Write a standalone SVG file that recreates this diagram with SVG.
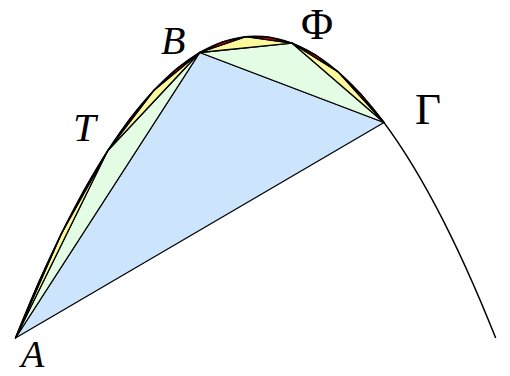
<svg xmlns="http://www.w3.org/2000/svg" width="510" height="376" viewBox="0 0 510 376">
<style>
.t{stroke:#000;stroke-width:1.3;stroke-linejoin:round}
.l1{fill:#cce4fc}
.l2{fill:#e3fce3}
.l3{fill:#fcf99c}
.l4{fill:#e00000}
.lbl{font-family:"Liberation Serif","DejaVu Serif",serif;fill:#000}
.it{font-style:italic}
</style>
<rect width="510" height="376" fill="#fff"/>
<g id="level1">
<polygon class="t l1" points="15.5,338 199.75,52.5 384,122.5"/>
</g>
<g id="level2">
<polygon class="t l2" points="15.5,338 107.63,150.81 199.75,52.5"/>
<polygon class="t l2" points="199.75,52.5 291.88,43.06 384,122.5"/>
</g>
<g id="level3">
<polygon class="t l3" points="15.5,338 61.56,233.3 107.63,150.81"/>
<polygon class="t l3" points="107.63,150.81 153.69,90.55 199.75,52.5"/>
<polygon class="t l3" points="199.75,52.5 245.81,36.67 291.88,43.06"/>
<polygon class="t l3" points="291.88,43.06 337.94,71.67 384,122.5"/>
</g>
<g id="level4">
<polygon class="t l4" points="15.5,338 38.53,282.87 61.56,233.3"/>
<polygon class="t l4" points="61.56,233.3 84.59,189.28 107.63,150.81"/>
<polygon class="t l4" points="107.63,150.81 130.66,117.9 153.69,90.55"/>
<polygon class="t l4" points="153.69,90.55 176.72,68.75 199.75,52.5"/>
<polygon class="t l4" points="199.75,52.5 222.78,41.81 245.81,36.67"/>
<polygon class="t l4" points="245.81,36.67 268.84,37.09 291.88,43.06"/>
<polygon class="t l4" points="291.88,43.06 314.91,54.59 337.94,71.67"/>
<polygon class="t l4" points="337.94,71.67 360.97,94.31 384,122.5"/>
</g>
<g id="parabola">
<path d="M15.5,338 Q255.6,-265.67 495.7,338" fill="none" stroke="#000" stroke-width="1.5"/>
</g>
<g id="labels">
<text class="lbl it" x="161" y="54" font-size="40">B</text>
<text class="lbl" x="301" y="39" font-size="44">Φ</text>
<text class="lbl it" x="73" y="141" font-size="41">T</text>
<text class="lbl" x="415" y="124" font-size="45">Γ</text>
<text class="lbl it" x="21" y="367" font-size="38">A</text>
</g>
</svg>
